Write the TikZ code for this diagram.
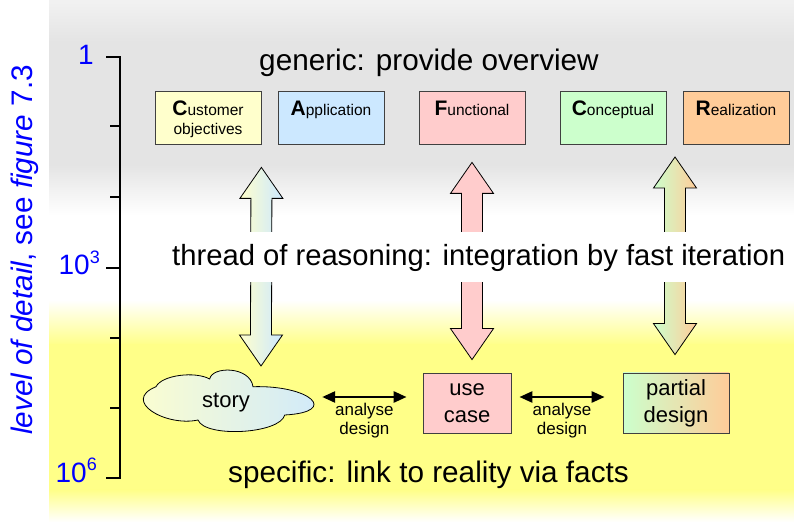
\documentclass[tikz,border=0pt]{standalone}
\usepackage{fontspec}
\setmainfont{Liberation Sans}
\usetikzlibrary{arrows.meta,calc}
\definecolor{cy}{HTML}{FFFFCC}
\definecolor{cb}{HTML}{CCE8FF}
\definecolor{cp}{HTML}{FFCCCC}
\definecolor{cg}{HTML}{CCFFCC}
\definecolor{co}{HTML}{FFCC99}
\definecolor{bgy}{HTML}{FFFF88}
\definecolor{bgg}{HTML}{E4E4E4}
\definecolor{axblue}{HTML}{0000FF}
\begin{document}
\begin{tikzpicture}[x=1pt,y=1pt,
  box/.style={draw=black!75, line width=0.8pt, minimum width=106pt, minimum height=53pt, inner sep=0pt},
  boxtext/.style={anchor=base, align=center, inner sep=0pt, font=\fontsize{15.5}{19}\selectfont},
  big/.style={font=\fontsize{29.7}{34}\selectfont, inner sep=0pt},
  ticklab/.style={font=\fontsize{28}{30}\selectfont, text=axblue, inner sep=0pt},
  axisline/.style={line width=1.2pt, black},
  lowbox/.style={draw=black!75, line width=0.8pt, minimum height=60pt, inner sep=0pt, align=center, font=\fontsize{22}{27}\selectfont},
  blk/.style={draw=black, line width=0.8pt},
  dbl/.style={line width=2.6pt, {Triangle[length=13pt,width=11pt]}-{Triangle[length=13pt,width=11pt]}},
  lbl/.style={align=center, font=\fontsize{17}{18.5}\selectfont, inner sep=0pt}
]
\newcommand{\capl}[1]{{\fontsize{21}{21}\selectfont\bfseries #1}}
\useasboundingbox (0,0) rectangle (794,522);
% backgrounds
\shade[top color=white!50!bgg, bottom color=bgg] (49,480) rectangle (794,522);
\fill[bgg] (49,357) rectangle (794,480.5);
\shade[top color=bgg, bottom color=white] (49,307) rectangle (794,357.5);
\shade[top color=white, bottom color=bgy] (49,177) rectangle (794,222);
\fill[bgy] (49,32) rectangle (794,177.5);
\shade[top color=bgy, bottom color=white] (49,0) rectangle (794,32.5);
% axis
\draw[axisline] (106,465) -- (120,465) -- (120,44) -- (106,44);
\draw[axisline] (106,254) -- (120,254);
\foreach \yy in {396,325,184,114} \draw[axisline] (110,\yy) -- (120,\yy);
\node[ticklab, anchor=base east] (t1) at (94,457) {1};
\node[ticklab, anchor=base east] (t3) at (100,247) {10\raisebox{0.42em}{\fontsize{18}{18}\selectfont 3}};
\node[ticklab, anchor=base east] (t6) at (97,40) {10\raisebox{0.42em}{\fontsize{18}{18}\selectfont 6}};
\node[rotate=90, font=\fontsize{29.7}{34}\selectfont, text=axblue, inner sep=0pt] (lod) at (25,272) {\textit{level of detail}, see \textit{figure} 7.3};
% title texts
\node[big, anchor=base] (gen) at (429,451) {generic: provide overview};
\node[big, anchor=base] (spec) at (428.5,40) {specific: link to reality via facts};
% top boxes
\node[box, fill=cy] (C) at (208,404.5) {};
\node[box, fill=cb] (A) at (331,404.5) {};
\node[box, fill=cp] (F) at (472,404.5) {};
\node[box, fill=cg] (Co) at (613,404.5) {};
\node[box, fill=co] (R) at (736,404.5) {};
\node[boxtext] (Ct) at (208,387) {\capl{C}ustomer\\objectives};
\node[boxtext] (At) at (331,406) {\capl{A}pplication};
\node[boxtext] (Ft) at (472,406) {\capl{F}unctional};
\node[boxtext] (Cot) at (613,406) {\capl{C}onceptual};
\node[boxtext] (Rt) at (736,406) {\capl{R}ealization};
% bottom nodes
\coordinate (sc) at (226,119);
\begin{scope}[shift={(sc)}]
\draw[line width=0.8pt, left color=cy, right color=cb]
  (-70,16.3) .. controls (-64,28) and (-31,32) .. (-16.3,24)
  .. controls (-14,37) and (24,37) .. (27,16.3)
  .. controls (84,18) and (114,-9) .. (58.7,-12)
  .. controls (54,-31) and (-21,-35) .. (-28,-17)
  .. controls (-60,-24) and (-105,2) .. cycle;
\end{scope}
\node[minimum width=164pt, minimum height=60pt, inner sep=0pt, font=\fontsize{22}{27}\selectfont] (story) at (sc) {story};
\node[lowbox, fill=cp, minimum width=88pt] (uc) at (467,119) {use\\case};
\node[lowbox, left color=cg, right color=co, minimum width=106pt] (pd) at (676,119) {partial\\design};
% block arrow tips
\coordinate (a1t) at ($(C.south east)+(0,-23)$);
\coordinate (a1b) at (261,156);
\coordinate (a2t) at ($(F.south)+(0,-18)$);
\coordinate (a2b) at ($(a2t |- uc.north)+(0,13)$);
\coordinate (a3t) at (675,365);
\coordinate (a3b) at ($(a3t |- pd.north)+(0,18)$);
\draw[blk, left color=cy, right color=cb] (a1t) -- ++(21.5,-31) -- ++(-11,0) -- ($(a1b)+(10.5,31)$) -- ++(11,0) -- (a1b) -- ++(-21.5,31) -- ++(11,0) -- ($(a1t)+(-10.5,-31)$) -- ++(-11,0) -- cycle;
\draw[blk, fill=cp] (a2t) -- ++(21.5,-31) -- ++(-11,0) -- ($(a2b)+(10.5,31)$) -- ++(11,0) -- (a2b) -- ++(-21.5,31) -- ++(11,0) -- ($(a2t)+(-10.5,-31)$) -- ++(-11,0) -- cycle;
\draw[blk, left color=cg, right color=co] (a3t) -- ++(21.5,-31) -- ++(-11,0) -- ($(a3b)+(10.5,31)$) -- ++(11,0) -- (a3b) -- ++(-21.5,31) -- ++(11,0) -- ($(a3t)+(-10.5,-31)$) -- ++(-11,0) -- cycle;
% thread text band
\node[font=\fontsize{29.2}{34}\selectfont, inner sep=0pt, fill=white, text height=34pt, text depth=16pt, anchor=base west] (thr) at (172,256) {thread of reasoning: integration by fast iteration};
% double arrows
\draw[dbl] ([shift={(14,6)}]story.east) -- node[midway, below=5pt, lbl] (l1) {analyse\\design} ([shift={(-16,6)}]uc.west);
\draw[dbl] ([shift={(8,6)}]uc.east) -- node[midway, below=5pt, lbl] (l2) {analyse\\design} ([shift={(-18,6)}]pd.west);
\end{tikzpicture}
\end{document}
